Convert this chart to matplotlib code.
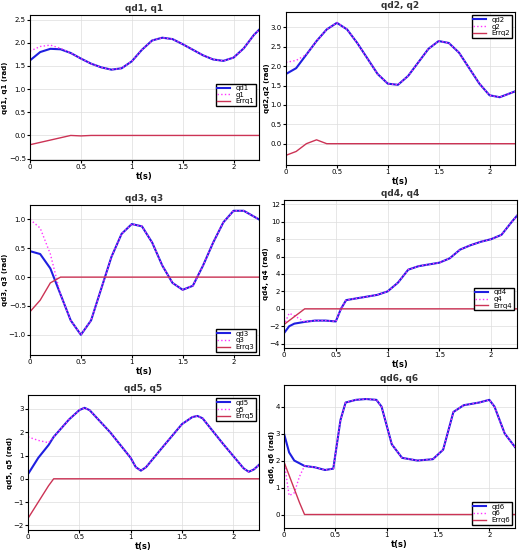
import matplotlib.pyplot as plt

# panel 1
t1 = [0, 0.1, 0.2, 0.3, 0.4, 0.5, 0.6, 0.7, 0.8, 0.9, 1.0, 1.1, 1.2, 1.3, 1.4, 1.5, 1.6, 1.7, 1.8, 1.9, 2.0, 2.1, 2.2, 2.25]
qd1 = [1.62, 1.80, 1.87, 1.86, 1.78, 1.66, 1.55, 1.47, 1.42, 1.45, 1.60, 1.85, 2.05, 2.11, 2.08, 1.97, 1.85, 1.73, 1.64, 1.61, 1.68, 1.88, 2.17, 2.28]
q1 = [1.82, 1.92, 1.95, 1.88, 1.78, 1.66, 1.55, 1.47, 1.42, 1.45, 1.60, 1.85, 2.05, 2.11, 2.08, 1.97, 1.85, 1.73, 1.64, 1.61, 1.68, 1.88, 2.17, 2.28]
e1 = [-0.2, -0.15, -0.1, -0.05, 0.0, -0.01, 0, 0, 0, 0, 0, 0, 0, 0, 0, 0, 0, 0, 0, 0, 0, 0, 0, 0]

# panel 2
t2 = t1
qd2 = [1.8, 1.95, 2.3, 2.65, 2.95, 3.12, 2.95, 2.6, 2.2, 1.8, 1.55, 1.52, 1.75, 2.1, 2.45, 2.65, 2.6, 2.35, 1.95, 1.55, 1.25, 1.2, 1.3, 1.35]
q2 = [2.1, 2.15, 2.3, 2.65, 2.95, 3.12, 2.95, 2.6, 2.2, 1.8, 1.55, 1.52, 1.75, 2.1, 2.45, 2.65, 2.6, 2.35, 1.95, 1.55, 1.25, 1.2, 1.3, 1.35]
e2 = [-0.3, -0.2, 0.0, 0.1, 0.0, 0, 0, 0, 0, 0, 0, 0, 0, 0, 0, 0, 0, 0, 0, 0, 0, 0, 0, 0]

# panel 3
t3 = t1
qd3 = [0.45, 0.4, 0.15, -0.3, -0.75, -1.0, -0.75, -0.2, 0.35, 0.75, 0.92, 0.88, 0.6, 0.2, -0.1, -0.22, -0.15, 0.2, 0.6, 0.95, 1.15, 1.15, 1.05, 1.0]
q3 = [1.0, 0.85, 0.4, -0.3, -0.75, -1.0, -0.75, -0.2, 0.35, 0.75, 0.92, 0.88, 0.6, 0.2, -0.1, -0.22, -0.15, 0.2, 0.6, 0.95, 1.15, 1.15, 1.05, 1.0]
e3 = [-0.6, -0.4, -0.1, 0.0, 0, 0, 0, 0, 0, 0, 0, 0, 0, 0, 0, 0, 0, 0, 0, 0, 0, 0, 0, 0]

# panel 4
t4 = [0, 0.05, 0.1, 0.2, 0.3, 0.4, 0.5, 0.55, 0.6, 0.7, 0.8, 0.9, 1.0, 1.1, 1.2, 1.3, 1.4, 1.5, 1.6, 1.7, 1.8, 1.9, 2.0, 2.1, 2.2, 2.25]
qd4 = [-2.8, -2.0, -1.7, -1.5, -1.35, -1.35, -1.45, 0.0, 1.0, 1.2, 1.4, 1.6, 2.0, 3.0, 4.5, 4.9, 5.1, 5.3, 5.8, 6.8, 7.3, 7.7, 8.0, 8.5, 10.0, 10.7]
q4 = [-1.9, -0.5, -0.8, -1.5, -1.35, -1.35, -1.45, 0.0, 1.0, 1.2, 1.4, 1.6, 2.0, 3.0, 4.5, 4.9, 5.1, 5.3, 5.8, 6.8, 7.3, 7.7, 8.0, 8.5, 10.0, 10.7]
e4 = [-1.8, -1.35, -0.9, 0.0, 0, 0, 0, 0, 0, 0, 0, 0, 0, 0, 0, 0, 0, 0, 0, 0, 0, 0, 0, 0, 0, 0]

# panel 5
t5 = [0, 0.1, 0.2, 0.25, 0.4, 0.5, 0.55, 0.6, 0.8, 1.0, 1.05, 1.1, 1.15, 1.3, 1.5, 1.6, 1.65, 1.7, 1.9, 2.1, 2.15, 2.2, 2.25]
qd5 = [0.2, 0.9, 1.45, 1.8, 2.55, 2.95, 3.05, 2.95, 2.0, 0.9, 0.5, 0.35, 0.5, 1.3, 2.35, 2.65, 2.7, 2.6, 1.5, 0.45, 0.3, 0.4, 0.6]
q5 = [1.8, 1.65, 1.55, 1.8, 2.55, 2.95, 3.05, 2.95, 2.0, 0.9, 0.5, 0.35, 0.5, 1.3, 2.35, 2.65, 2.7, 2.6, 1.5, 0.45, 0.3, 0.4, 0.6]
e5 = [-1.7, -1.0, -0.3, 0.0, 0, 0, 0, 0, 0, 0, 0, 0, 0, 0, 0, 0, 0, 0, 0, 0, 0, 0, 0]

# panel 6
t6 = [0, 0.05, 0.1, 0.15, 0.2, 0.3, 0.4, 0.48, 0.55, 0.6, 0.7, 0.8, 0.9, 0.95, 1.05, 1.15, 1.3, 1.45, 1.55, 1.65, 1.75, 1.9, 2.0, 2.05, 2.15, 2.25]
qd6 = [3.0, 2.3, 2.0, 1.9, 1.8, 1.75, 1.65, 1.7, 3.5, 4.15, 4.25, 4.28, 4.25, 4.0, 2.6, 2.1, 2.0, 2.05, 2.4, 3.8, 4.05, 4.15, 4.25, 4.0, 3.0, 2.5]
q6 = [2.0, 0.7, 0.8, 1.4, 1.8, 1.75, 1.65, 1.7, 3.5, 4.15, 4.25, 4.28, 4.25, 4.0, 2.6, 2.1, 2.0, 2.05, 2.4, 3.8, 4.05, 4.15, 4.25, 4.0, 3.0, 2.5]
e6 = [1.95, 1.45, 0.95, 0.45, 0.0, 0, 0, 0, 0, 0, 0, 0, 0, 0, 0, 0, 0, 0, 0, 0, 0, 0, 0, 0, 0, 0]

# (n, t, qd, q, err, title, ylabel, ylim, yticks, box in px [x0, y0 from bottom, w, h], legend loc, anchor)
panels = [
    (1, t1, qd1, q1, e1, "qd1, q1", "qd1, q1 (rad)", (-0.53, 2.6), [-0.5, 0, 0.5, 1, 1.5, 2, 2.5],
     [30, 390, 229, 145], "center right", (1.0, 0.45)),
    (2, t2, qd2, q2, e2, "qd2, q2", "qd2,q2 (rad)", (-0.55, 3.4), [0, 0.5, 1, 1.5, 2, 2.5, 3],
     [286, 385, 229, 153], "upper right", (1.0, 1.0)),
    (3, t3, qd3, q3, e3, "qd3, q3", "qd3, q3 (rad)", (-1.35, 1.25), [-1, -0.5, 0, 0.5, 1],
     [30, 195, 229, 150], "lower right", (1.0, 0.0)),
    (4, t4, qd4, q4, e4, "qd4, q4", "qd4, q4 (rad)", (-4.5, 12.5), [-4, -2, 0, 2, 4, 6, 8, 10, 12],
     [284, 202, 233, 148], "center right", (1.0, 0.33)),
    (5, t5, qd5, q5, e5, "qd5, q5", "qd5, q5 (rad)", (-2.2, 3.6), [-2, -1, 0, 1, 2, 3],
     [28, 20, 231, 135], "upper right", (1.0, 1.0)),
    (6, t6, qd6, q6, e6, "qd6, q6", "qd6, q6 (rad)", (-0.5, 4.8), [0, 1, 2, 3, 4],
     [284, 22, 231, 143], "lower right", (1.0, 0.0)),
]

W, H = 522, 550
fig = plt.figure(figsize=(W / 100, H / 100), dpi=100)
for n, t, qd, q, e, title, ylab, ylim, yt, box, loc, anchor in panels:
    x0, y0, w, h = box
    ax = fig.add_axes([x0 / W, y0 / H, w / W, h / H])
    ax.plot(t, qd, color="#1f1fe0", lw=1.5, label=f"qd{n}")
    ax.plot(t, q, color="#ff33ff", lw=1.0, ls=":", label=f"q{n}")
    ax.plot(t, e, color="#cc3355", lw=1.0, label=f"Errq{n}")
    ax.set_xlim(0, 2.25)
    ax.set_ylim(*ylim)
    ax.set_yticks(yt)
    ax.set_xticks([0, 0.5, 1, 1.5, 2])
    ax.set_xticklabels(["0", "0.5", "1", "1.5", "2"])
    ax.tick_params(labelsize=5, length=2, pad=1)
    ax.grid(True, color="#dddddd", lw=0.5)
    ax.set_title(title, fontsize=6.5, fontweight="bold", color="#333333", pad=3)
    ax.set_xlabel("t(s)", fontsize=6, fontweight="bold", labelpad=1)
    ax.set_ylabel(ylab, fontsize=5, fontweight="bold", labelpad=0.5)
    ax.legend(loc=loc, bbox_to_anchor=anchor, fontsize=5, handlelength=1.8,
              borderpad=0.2, labelspacing=0.1, fancybox=False, edgecolor="black", framealpha=1)

fig.savefig("out.png", dpi=100)
